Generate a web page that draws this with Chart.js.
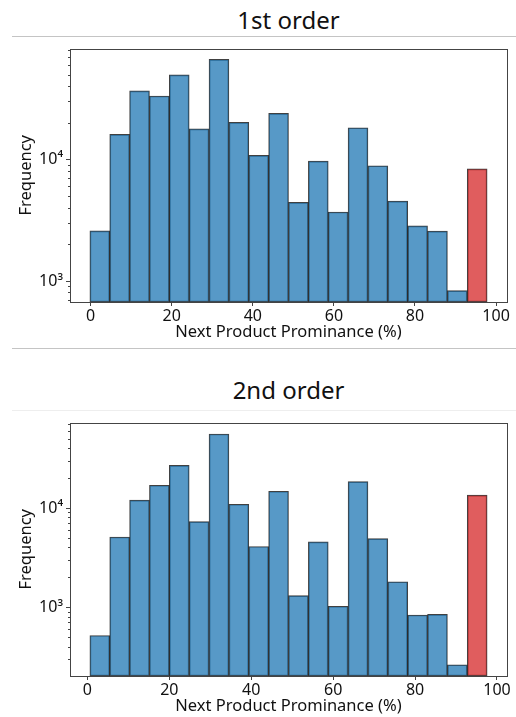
<!DOCTYPE html>
<html>
<head>
<meta charset="utf-8">
<script src="https://cdn.jsdelivr.net/npm/chart.js@4.4.1/dist/chart.umd.min.js"></script>
<style>
  body { margin: 0; background: #fff; width: 516px; height: 717px; position: relative; overflow: hidden;
         font-family: 'Noto Sans', sans-serif; color: #111; }
  .title { position: absolute; left: 70px; width: 437px; text-align: center; font-size: 24px; line-height: 30px; }
  .rule { position: absolute; left: 12px; right: 0; height: 1px; background: #c4c4c4; }
  .box { position: absolute; left: 0; width: 516px; height: 312px; }
</style>
</head>
<body>
<div class="title" style="top:5px">1st order</div>
<div class="rule" style="top:36px"></div>
<div class="box" style="top:36px"><canvas id="chart1"></canvas></div>
<div class="rule" style="top:348px"></div>

<div class="title" style="top:375px">2nd order</div>
<div class="rule" style="top:410px; background:#eeeeee"></div>
<div class="box" style="top:410px"><canvas id="chart2"></canvas></div>

<script>
// Bin edges (% prominence), 20 bins each; the last bin is highlighted
const binEdges1 = [-0.2, 4.7, 9.6, 14.5, 19.4, 24.3, 29.2, 34.1, 39.0, 43.9, 48.8,
                   53.7, 58.6, 63.5, 68.4, 73.3, 78.2, 83.1, 88.0, 92.9, 97.8];
const binEdges2 = [0.6, 5.45, 10.3, 15.15, 20.0, 24.85, 29.7, 34.55, 39.4, 44.25, 49.1,
                   53.95, 58.8, 63.65, 68.5, 73.35, 78.2, 83.05, 87.9, 92.75, 97.6];

// Frequencies
const freq1 = [2600, 16200, 37000, 33600, 50100, 18000, 67400, 20400, 10900, 24200,
               4460, 9760, 3720, 18400, 8950, 4570, 2860, 2590, 836, 8420];
const freq2 = [523, 5150, 12100, 17100, 27100, 7340, 56300, 11000, 4130, 14900,
               1320, 4600, 1030, 18600, 4960, 1820, 841, 853, 265, 13600];

const xTicks = [0, 20, 40, 60, 80, 100];
const xLabel = 'Next Product Prominance (%)';
const yLabel = 'Frequency';

const BLUE = 'rgba(31, 119, 180, 0.75)';
const RED = 'rgba(214, 39, 40, 0.75)';
const EDGE = 'rgba(0, 0, 0, 0.75)';
const AXIS = '#444';
const SUP = { '0': '⁰', '1': '¹', '2': '²', '3': '³', '4': '⁴', '5': '⁵', '6': '⁶' };

// matplotlib-style box around the plot area
const framePlugin = {
    id: 'frame',
    afterDraw(chart) {
        const a = chart.chartArea;
        const ctx = chart.ctx;
        ctx.save();
        ctx.strokeStyle = AXIS;
        ctx.lineWidth = 1;
        ctx.strokeRect(Math.round(a.left) + 0.5, Math.round(a.top) + 0.5,
                       Math.round(a.right - a.left), Math.round(a.bottom - a.top));
        ctx.restore();
    },
};

function isDecade(v) {
    return Math.abs(Math.log10(v) - Math.round(Math.log10(v))) < 1e-9;
}

function makeHistogram(canvas, edges, freq, xRange, yRange, padTop) {
    const data = freq.map((f, i) => ({ x: (edges[i] + edges[i + 1]) / 2, y: f }));
    const font = { family: "'Noto Sans', sans-serif", size: 16 };
    const titleFont = { family: "'Noto Sans', sans-serif", size: 16.5 };

    return new Chart(canvas, {
        type: 'bar',
        data: {
            datasets: [{
                data,
                backgroundColor: (c) => (c.dataIndex === freq.length - 1 ? RED : BLUE),
                borderColor: EDGE,
                borderWidth: 1,
                borderSkipped: false,
                barPercentage: 1,
                categoryPercentage: 1,
            }],
        },
        options: {
            responsive: true,
            maintainAspectRatio: false,
            animation: false,
            events: [],
            layout: { padding: { top: padTop, right: 9, left: 16, bottom: 0 } },
            plugins: { legend: { display: false }, tooltip: { enabled: false } },
            scales: {
                x: {
                    type: 'linear',
                    min: xRange[0],
                    max: xRange[1],
                    offset: false,
                    afterBuildTicks: (s) => { s.ticks = xTicks.map((v) => ({ value: v })); },
                    afterFit: (s) => { s.height = 46; },
                    border: { display: false },
                    grid: { drawOnChartArea: false, offset: false, tickLength: 4, color: AXIS },
                    ticks: { font, color: '#111', padding: 1, maxRotation: 0 },
                    title: { display: true, text: xLabel, font: titleFont, color: '#111', padding: { top: 0, bottom: 6 } },
                },
                y: {
                    type: 'logarithmic',
                    min: yRange[0],
                    max: yRange[1],
                    afterBuildTicks: (s) => {
                        s.ticks = s.ticks.filter((t) => {
                            const m = t.value / Math.pow(10, Math.floor(Math.log10(t.value) + 1e-9));
                            return Math.abs(m - Math.round(m)) < 1e-6;
                        });
                    },
                    afterFit: (s) => { s.width = 54; },
                    border: { display: false },
                    grid: {
                        drawOnChartArea: false,
                        tickLength: 4,
                        color: AXIS,
                        tickBorderDash: (c) => (isDecade(c.tick.value) ? [] : [0, 2, 6]),
                    },
                    ticks: {
                        font,
                        color: '#111',
                        padding: 3,
                        autoSkip: false,
                        callback: (v) => {
                            if (!isDecade(v)) return '';
                            return '10' + String(Math.round(Math.log10(v))).split('').map((d) => SUP[d]).join('');
                        },
                    },
                    title: { display: true, text: yLabel, font: titleFont, color: '#111', padding: { top: 0, bottom: 4 } },
                },
            },
        },
        plugins: [framePlugin],
    });
}

makeHistogram(document.getElementById('chart1'), binEdges1, freq1, [-5.1, 102.7], [674, 82600], 7);
makeHistogram(document.getElementById('chart2'), binEdges2, freq2, [-4.25, 102.45], [204, 73300], 6);
</script>
</body>
</html>
